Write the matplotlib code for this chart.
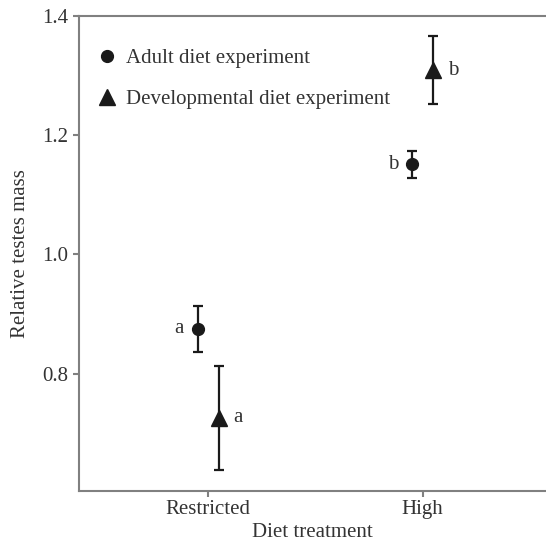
import matplotlib
matplotlib.use("Agg")
import matplotlib.pyplot as plt
import numpy as np

# Data
categories = ["Restricted", "High"]
adult_mean = [0.875, 1.151]
adult_err = [0.038, 0.022]
adult_letters = ["a", "b"]
dev_mean = [0.726, 1.309]
dev_err = [0.087, 0.057]
dev_letters = ["a", "b"]
yticks = [0.8, 1.0, 1.2, 1.4]

plt.rcParams["font.family"] = ["Liberation Serif", "DejaVu Serif"]
text_color = "#333333"
spine_color = "#808080"
mark_color = "#1a1a1a"
fs = 15

fig = plt.figure(figsize=(5.46, 5.41), dpi=100)
ax = fig.add_axes([0.1452, 0.0924, 0.8548, 0.878])

x = np.arange(1, len(categories) + 1)
dodge = 0.05

ax.errorbar(x - dodge, adult_mean, yerr=adult_err, fmt="o", color=mark_color,
            ms=8.5, elinewidth=1.6, capsize=3.8, capthick=1.6, zorder=3)
ax.errorbar(x + dodge, dev_mean, yerr=dev_err, fmt="^", color=mark_color,
            ms=11, elinewidth=1.6, capsize=3.8, capthick=1.6, zorder=3)

for xi, yi, lab in zip(x - dodge, adult_mean, adult_letters):
    ax.annotate(lab, (xi, yi), xytext=(-10, 0), textcoords="offset points",
                ha="right", va="center", fontsize=fs, color=text_color)
for xi, yi, lab in zip(x + dodge, dev_mean, dev_letters):
    ax.annotate(lab, (xi, yi), xytext=(10.5, 0), textcoords="offset points",
                ha="left", va="center", fontsize=fs, color=text_color)

h1, = ax.plot([], [], "o", color=mark_color, ms=8.5, label="Adult diet experiment")
h2, = ax.plot([], [], "^", color=mark_color, ms=11, label="Developmental diet experiment")
leg = ax.legend(handles=[h1, h2], loc="upper left", frameon=False,
                fontsize=fs, labelcolor=text_color, handlelength=1.0,
                handletextpad=0.45, labelspacing=1.04,
                bbox_to_anchor=(-0.004, 0.971), borderaxespad=0.5)

ax.set_xlim(0.398, 2.575)
ax.set_ylim(0.603, 1.4)
ax.set_xticks(x)
ax.set_xticklabels(categories)
ax.set_yticks(yticks)
ax.set_yticklabels([f"{v:.1f}" for v in yticks])

ax.set_xlabel("Diet treatment", fontsize=fs, color=text_color, labelpad=2.5)
ax.set_ylabel("Relative testes mass", fontsize=fs, color=text_color, labelpad=9)

for side in ["left", "bottom", "top"]:
    ax.spines[side].set_color(spine_color)
    ax.spines[side].set_linewidth(1.5)
ax.spines["right"].set_visible(False)

ax.tick_params(axis="both", colors=spine_color, width=1.5, length=4.5,
               labelsize=fs, labelcolor=text_color, pad=2)
ax.tick_params(axis="y", pad=3.5)

fig.savefig("out.png", dpi=100)
